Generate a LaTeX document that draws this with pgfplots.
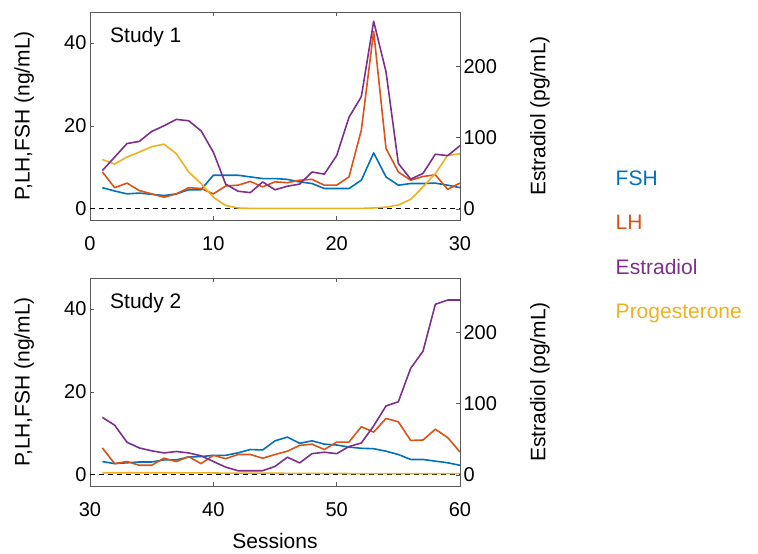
\documentclass[border=0pt]{standalone}
\usepackage{pgfplots}
\usepackage{pgfplotstable}
\pgfplotsset{compat=1.18}
\usepackage{fontspec}
\setmainfont{Liberation Sans}
\definecolor{fsh}{rgb}{0,0.447,0.741}
\definecolor{lh}{rgb}{0.85,0.325,0.098}
\definecolor{estr}{rgb}{0.494,0.184,0.556}
\definecolor{prog}{rgb}{0.929,0.694,0.125}
\definecolor{axc}{rgb}{0.35,0.35,0.35}

\pgfplotstableread{
s fsh lh estr prog
1 5.1 8.9 54 11.9
2 4.3 5.1 73 10.8
3 3.6 6.2 92 12.5
4 3.8 4.4 95 13.7
5 3.5 3.6 109 15.0
6 3.2 2.8 117 15.6
7 3.6 3.6 126 13.3
8 4.6 5.1 124 8.9
9 4.6 4.9 110 6.1
10 8.1 3.6 80 2.8
11 8.1 5.5 35 0.8
12 8.1 5.7 25 0.2
13 7.7 6.6 23 0.1
14 7.3 5.3 38 0.1
15 7.3 6.5 27 0.1
16 7.1 6.3 32 0.1
17 6.5 6.9 35 0.1
18 6.1 7.1 52 0.1
19 4.9 5.7 49 0.1
20 4.9 5.7 75 0.1
21 4.9 7.7 129 0.1
22 6.9 19.0 158 0.1
23 13.5 42.8 264 0.2
24 7.7 14.6 193 0.4
25 5.7 8.9 64 0.9
26 6.1 6.9 42 2.3
27 6.1 7.8 50 5.3
28 6.2 8.2 77 8.5
29 5.7 4.7 75 12.9
30 5.1 6.2 89 13.3
}\studyone

\pgfplotstableread{
s fsh lh estr prog
31 3.2 6.5 81 0.5
32 2.7 2.7 70 0.5
33 2.9 3.2 46 0.5
34 3.1 2.3 38 0.5
35 3.1 2.3 34 0.5
36 3.6 4.0 31 0.5
37 3.6 3.2 33 0.5
38 4.3 4.4 31 0.45
39 4.4 2.7 27 0.45
40 4.7 4.7 19 0.45
41 4.7 3.9 11 0.4
42 5.3 4.9 6 0.4
43 6.1 4.9 6 0.4
44 6.0 4.0 6 0.4
45 8.2 4.9 12 0.4
46 9.1 5.7 25 0.35
47 7.6 7.1 17 0.35
48 8.2 7.4 30 0.35
49 7.4 6.1 32 0.35
50 7.2 7.9 30 0.35
51 6.7 7.9 40 0.3
52 6.4 11.6 45 0.3
53 6.3 10.3 69 0.3
54 5.7 13.6 97 0.3
55 4.9 12.8 103 0.3
56 3.7 8.3 150 0.3
57 3.7 8.4 174 0.3
58 3.3 11.0 240 0.3
59 2.9 9.0 246 0.3
60 2.3 5.5 246 0.3
}\studytwo

\pgfplotsset{
  base/.style={scale only axis, width=370pt, height=208pt,
    axis line style={axc, line width=0.8pt},
    every tick/.style={axc, line width=0.8pt},
    major tick length=4pt, tick align=inside,
    ticklabel style={font=\fontsize{20}{24}\selectfont, text=black},
    xticklabel style={yshift=-13pt},
    /pgf/number format/assume math mode=true,
    label style={font=\fontsize{21}{25}\selectfont},
    clip=true,
  },
  lefty/.style={base, ymin=-2.7, ymax=47.5, ytick={0,20,40}, ytick pos=left,
    ylabel={P,LH,FSH (ng/mL)},
    ylabel style={at={(axis description cs:-0.178,0.5)}, anchor=center}},
  righty/.style={base, ymin=-15.5, ymax=277, ytick={0,100,200},
    axis y line*=right, axis x line=none,
    ylabel={Estradiol (pg/mL)},
    ylabel style={at={(axis description cs:1.216,0.5)}, anchor=center}},
  hline/.style={line width=1.6pt, line join=round},
}

\begin{document}
\begin{tikzpicture}
\useasboundingbox (0,0) rectangle (758pt,554pt);

% ---------- Study 1 ----------
\begin{axis}[lefty, at={(90pt,334pt)}, xmin=0, xmax=30, xtick={0,10,20,30}]
  \addplot[black, line width=0.7pt, dash pattern=on 5pt off 4pt] coordinates {(0,0) (30,0)};
  \addplot[hline, fsh] table[x=s, y=fsh] {\studyone};
  \addplot[hline, lh] table[x=s, y=lh] {\studyone};
  \addplot[hline, prog] table[x=s, y=prog] {\studyone};
  \node[anchor=west, font=\fontsize{21}{25}\selectfont] at (axis description cs:0.045,0.88) {Study 1};
\end{axis}
\begin{axis}[righty, at={(90pt,334pt)}, xmin=0, xmax=30,
    legend image code/.code={},
    legend cell align=left,
    legend style={draw=none, fill=none, at={(axis description cs:1.415,0.245)}, anchor=north west,
      row sep=24pt, font=\fontsize{21}{25}\selectfont, inner sep=0pt}]
  \addlegendimage{fsh}\addlegendentry[text=fsh]{FSH}
  \addlegendimage{lh}\addlegendentry[text=lh]{LH}
  \addplot[hline, estr] table[x=s, y=estr] {\studyone};
  \addlegendentry[text=estr]{Estradiol}
  \addlegendimage{prog}\addlegendentry[text=prog]{Progesterone}
\end{axis}

% ---------- Study 2 ----------
\begin{axis}[lefty, at={(90pt,68pt)}, xmin=30, xmax=60, xtick={30,40,50,60},
    xlabel={Sessions},
    xlabel style={at={(axis description cs:0.5,-0.264)}, anchor=center}]
  \addplot[black, line width=0.7pt, dash pattern=on 5pt off 4pt] coordinates {(30,0) (60,0)};
  \addplot[hline, fsh] table[x=s, y=fsh] {\studytwo};
  \addplot[hline, lh] table[x=s, y=lh] {\studytwo};
  \addplot[hline, prog] table[x=s, y=prog] {\studytwo};
  \node[anchor=west, font=\fontsize{21}{25}\selectfont] at (axis description cs:0.045,0.88) {Study 2};
\end{axis}
\begin{axis}[righty, at={(90pt,68pt)}, xmin=30, xmax=60]
  \addplot[hline, estr] table[x=s, y=estr] {\studytwo};
\end{axis}
\end{tikzpicture}
\end{document}
